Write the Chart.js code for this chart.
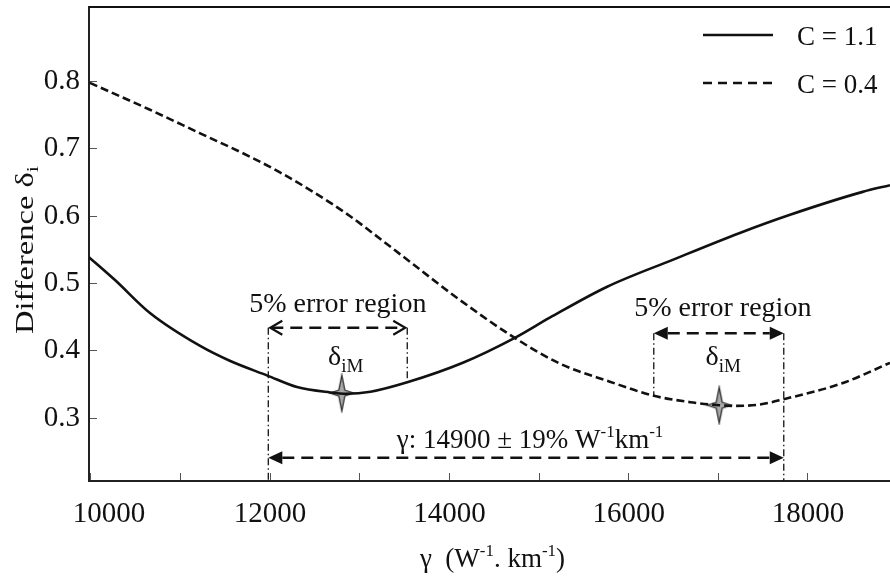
<!DOCTYPE html>
<html>
<head>
<meta charset="utf-8">
<script src="https://cdn.jsdelivr.net/npm/chart.js@4.4.1/dist/chart.umd.min.js"></script>
<style>
  html, body { margin: 0; padding: 0; background: #fff; }
  #wrap { width: 890px; height: 581px; }
</style>
</head>
<body>
<div id="wrap"><canvas id="chart" width="890" height="581"></canvas></div>
<script>
// --- data ---
const gammaC11 = [9980, 10270, 10660, 11220, 11550, 11970, 12300, 12670, 12850, 13120, 13530, 14150, 14730, 15120, 15760, 16490, 17240, 17800, 18610, 18915];
const deltaC11 = [0.539, 0.505, 0.456, 0.407, 0.385, 0.363, 0.346, 0.338, 0.336, 0.339, 0.353, 0.382, 0.419, 0.449, 0.495, 0.535, 0.575, 0.602, 0.636, 0.646];

const gammaC04 = [9990, 10660, 11220, 11780, 12110, 12480, 12860, 13230, 13600, 14090, 14730, 15230, 15790, 16280, 16720, 17010, 17190, 17460, 17730, 18390, 18915];
const deltaC04 = [0.798, 0.758, 0.723, 0.688, 0.665, 0.636, 0.603, 0.566, 0.528, 0.478, 0.419, 0.381, 0.354, 0.333, 0.323, 0.319, 0.318, 0.320, 0.328, 0.352, 0.382];

const minimaGamma = [12800, 17010];
const minimaDelta = [0.337, 0.319];

const xTickValues = [10000, 11000, 12000, 13000, 14000, 15000, 16000, 17000, 18000];
const xTickLabels = [10000, 12000, 14000, 16000, 18000];
const yTickValues = [0.3, 0.4, 0.5, 0.6, 0.7, 0.8];

const gammaCentre = 14900;
const gammaRange = [11980, 17730];       // γ: 14900 ± 19 %
const regionC11 = [gammaRange[0], 13530]; // 5% error region, C = 1.1
const regionC04 = [16280, gammaRange[1]]; // 5% error region, C = 0.4
const regionC11Arrow = 0.434;
const regionC04Arrow = 0.426;
const rangeArrow = 0.241;

const SERIF = "'Liberation Serif', 'Times New Roman', serif";
const INK = '#111';

// 4-point star used for the minima
function makeStar() {
  const c = document.createElement('canvas');
  c.width = 28; c.height = 40;
  const g = c.getContext('2d');
  const cx = 14, cy = 20, r = 3;
  g.beginPath();
  g.moveTo(cx, 2);
  g.lineTo(cx + r, cy - r);
  g.lineTo(26, cy);
  g.lineTo(cx + r, cy + r);
  g.lineTo(cx, 38);
  g.lineTo(cx - r, cy + r);
  g.lineTo(2, cy);
  g.lineTo(cx - r, cy - r);
  g.closePath();
  g.fillStyle = '#a9a9a9';
  g.fill();
  g.lineWidth = 1.3;
  g.strokeStyle = '#333';
  g.stroke();
  return c;
}

// text made of pieces: [text, size, dy]
function drawParts(ctx, parts, x, y, align) {
  let w = 0;
  parts.forEach(p => { ctx.font = p[1] + 'px ' + SERIF; w += ctx.measureText(p[0]).width; });
  let cx = align === 'center' ? x - w / 2 : x;
  ctx.textAlign = 'left';
  ctx.textBaseline = 'alphabetic';
  parts.forEach(p => {
    ctx.font = p[1] + 'px ' + SERIF;
    ctx.fillText(p[0], cx, y + (p[2] || 0));
    cx += ctx.measureText(p[0]).width;
  });
}

function dashDot(ctx, x, y1, y2) {
  ctx.save();
  ctx.setLineDash([7, 3, 1.5, 3]);
  ctx.lineWidth = 1.3;
  ctx.beginPath();
  ctx.moveTo(x, y1);
  ctx.lineTo(x, y2);
  ctx.stroke();
  ctx.restore();
}

function arrow(ctx, x1, x2, y, head) {
  const hl = 14;
  ctx.save();
  ctx.setLineDash([12, 7]);
  ctx.lineWidth = 2.5;
  ctx.beginPath();
  ctx.moveTo(x1 + (head === 'open' ? 3 : hl), y);
  ctx.lineTo(x2 - (head === 'open' ? 3 : hl), y);
  ctx.stroke();
  ctx.restore();
  [[x1, 1], [x2, -1]].forEach(([x, d]) => {
    ctx.beginPath();
    if (head === 'open') {
      ctx.moveTo(x + d * 14, y - 7);
      ctx.lineTo(x + d * 2, y);
      ctx.lineTo(x + d * 14, y + 7);
      ctx.lineWidth = 2.2;
      ctx.stroke();
    } else {
      ctx.moveTo(x, y);
      ctx.lineTo(x + d * hl, y - 6.5);
      ctx.lineTo(x + d * hl, y + 6.5);
      ctx.closePath();
      ctx.fill();
    }
  });
}

const annotations = {
  id: 'annotations',
  afterDatasetsDraw(chart) {
    const { ctx, chartArea: a } = chart;
    const xs = chart.scales.x, ys = chart.scales.y;
    const px = v => xs.getPixelForValue(v);
    const py = v => ys.getPixelForValue(v);
    ctx.save();
    ctx.strokeStyle = INK;
    ctx.fillStyle = INK;

    // top frame line
    ctx.lineWidth = 2;
    ctx.beginPath();
    ctx.moveTo(a.left, a.top);
    ctx.lineTo(a.right, a.top);
    ctx.stroke();

    // region lines
    dashDot(ctx, px(regionC11[0]), py(regionC11Arrow), a.bottom);
    dashDot(ctx, px(regionC11[1]), py(regionC11Arrow), py(0.353));
    dashDot(ctx, px(regionC04[0]), py(regionC04Arrow), py(0.333));
    dashDot(ctx, px(regionC04[1]), py(regionC04Arrow), a.bottom);

    arrow(ctx, px(regionC11[0]), px(regionC11[1]), py(regionC11Arrow), 'open');
    arrow(ctx, px(regionC04[0]), px(regionC04[1]), py(regionC04Arrow), 'filled');
    arrow(ctx, px(gammaRange[0]), px(gammaRange[1]), py(rangeArrow), 'filled');

    drawParts(ctx, [['5% error region', 28]], px((regionC11[0] + regionC11[1]) / 2), py(regionC11Arrow) - 16, 'center');
    drawParts(ctx, [['5% error region', 28]], px((regionC04[0] + regionC04[1]) / 2) + 4, py(regionC04Arrow) - 17, 'center');

    minimaGamma.forEach(g => {
      drawParts(ctx, [['δ', 28], ['iM', 19, 7]], px(g) + 4, py(0.379), 'center');
    });

    drawParts(ctx, [['γ: 14900 ± 19% W', 27], ['-1', 17, -11], ['km', 27], ['-1', 17, -11]], px(gammaCentre), py(rangeArrow) - 10, 'center');

    // legend
    const lx1 = a.right - 187, lx2 = a.right - 117, tx = a.right - 93;
    ctx.lineWidth = 2.6;
    ctx.beginPath(); ctx.moveTo(lx1, 35); ctx.lineTo(lx2, 35); ctx.stroke();
    ctx.setLineDash([9, 6]);
    ctx.beginPath(); ctx.moveTo(lx1, 83); ctx.lineTo(lx2, 83); ctx.stroke();
    ctx.setLineDash([]);
    drawParts(ctx, [['C = 1.1', 27]], tx, 45, 'left');
    drawParts(ctx, [['C = 0.4', 27]], tx, 93, 'left');

    // axis titles
    drawParts(ctx, [['γ  (W', 27], ['-1', 17, -11], ['. km', 27], ['-1', 17, -11], [')', 27]], (a.left + a.right) / 2 + 3, 567, 'center');
    ctx.save();
    ctx.translate(33, 250);
    ctx.rotate(-Math.PI / 2);
    ctx.scale(1.3, 1);
    drawParts(ctx, [['Difference δ', 25], ['i', 17, 5]], 0, 0, 'center');
    ctx.restore();

    ctx.restore();
  }
};

const toPoints = (xs, ys) => xs.map((x, i) => ({ x: x, y: ys[i] }));

new Chart(document.getElementById('chart'), {
  type: 'line',
  data: {
    datasets: [
      {
        label: 'C = 1.1',
        data: toPoints(gammaC11, deltaC11),
        borderColor: INK,
        borderWidth: 2.6,
        pointRadius: 0,
        cubicInterpolationMode: 'monotone',
        fill: false
      },
      {
        label: 'C = 0.4',
        data: toPoints(gammaC04, deltaC04),
        borderColor: INK,
        borderWidth: 2.6,
        borderDash: [8, 4],
        pointRadius: 0,
        cubicInterpolationMode: 'monotone',
        fill: false
      },
      {
        type: 'scatter',
        label: 'δiM',
        data: toPoints(minimaGamma, minimaDelta),
        pointStyle: makeStar(),
        pointRadius: 14,
        showLine: false
      }
    ]
  },
  options: {
    responsive: false,
    animation: false,
    layout: { autoPadding: false, padding: { top: 7, right: 0, left: 0, bottom: 0 } },
    plugins: { legend: { display: false }, tooltip: { enabled: false } },
    scales: {
      x: {
        type: 'linear',
        min: 9980,
        max: 18915,
        afterBuildTicks: s => { s.ticks = xTickValues.map(v => ({ value: v })); },
        afterFit: s => { s.height = 100; s.paddingLeft = 0; s.paddingRight = 0; },
        grid: { drawOnChartArea: false, drawTicks: true, tickLength: -8, color: '#555', lineWidth: 1 },
        border: { color: '#222', width: 2 },
        ticks: {
          autoSkip: false,
          maxRotation: 0,
          padding: 24,
          color: INK,
          font: { family: SERIF, size: 29 },
          callback: v => xTickLabels.includes(v) ? (v === 10000 ? '     ' + v : String(v)) : ''
        }
      },
      y: {
        min: 0.2064,
        max: 0.9107,
        afterBuildTicks: s => { s.ticks = yTickValues.map(v => ({ value: v })); },
        afterFit: s => { s.width = 89; s.paddingTop = 0; s.paddingBottom = 0; },
        grid: { drawOnChartArea: false, drawTicks: true, tickLength: -8, color: '#555', lineWidth: 1 },
        border: { color: '#222', width: 2 },
        ticks: {
          padding: 17,
          color: INK,
          font: { family: SERIF, size: 29 },
          callback: v => v.toFixed(1)
        }
      }
    }
  },
  plugins: [annotations]
});
</script>
</body>
</html>
